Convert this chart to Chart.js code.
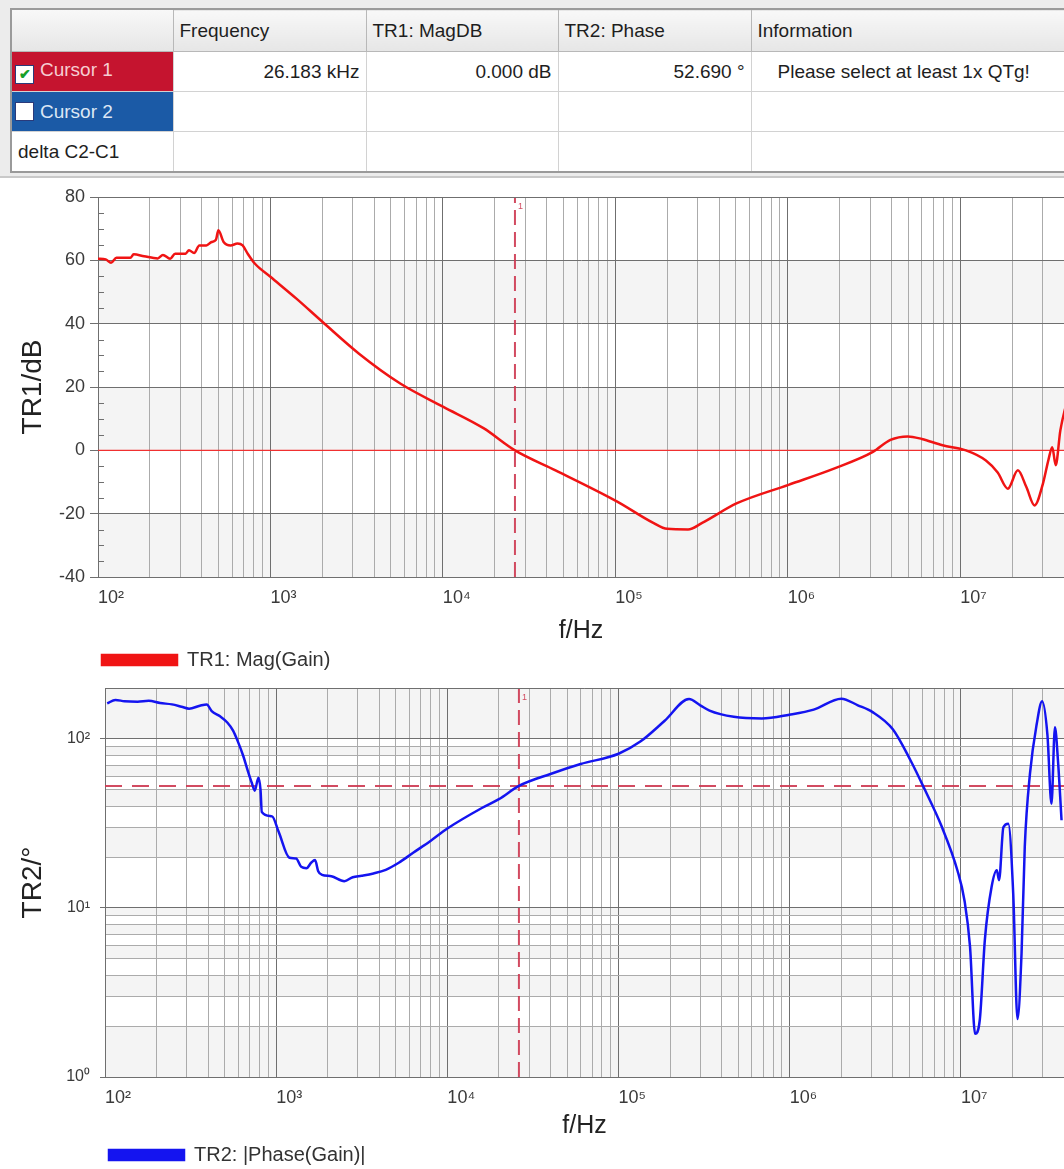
<!DOCTYPE html>
<html>
<head>
<meta charset="utf-8">
<script src="https://cdn.jsdelivr.net/npm/chart.js@4.4.1/dist/chart.umd.min.js"></script>
<style>
  html, body { margin:0; padding:0; background:#fff; overflow:hidden; width:1064px; height:1169px; }
  #panel { position:absolute; left:0; top:0; width:1064px; height:176px; background:#ececec; border-bottom:2px solid #c9c9c9; overflow:hidden; }
  table { position:absolute; left:10px; top:8px; border-collapse:collapse; table-layout:fixed; width:1070px;
          font-family:"Liberation Sans", Arial, sans-serif; font-size:19px; color:#1e1e1e; background:#fff; border:2px solid #9a9a9a; }
  td, th { border:1px solid #d2d2d2; padding:0 6px; white-space:nowrap; overflow:hidden; font-weight:normal; }
  th { height:41px; text-align:left; background:linear-gradient(#f8f8f8,#e6e6e6); border-color:#b8b8b8; }
  td { height:39px; }
  .num { text-align:right; }
  .info { padding-left:26px; }
  .c1 { background:#c5142f; color:#f6cdd2; padding-left:3px; }
  .c2 { background:#1b5aa6; color:#dce7f5; padding-left:3px; }
  .box { display:inline-block; width:17px; height:17px; background:#fff; border:1px solid #2a3a7a; vertical-align:-3px;
         margin-right:6px; text-align:center; line-height:17px; font-size:14px; color:#18a02a; font-weight:bold; }
  canvas { position:absolute; left:0; }
  #mag { top:180px; }
  #phase { top:680px; }
</style>
</head>
<body>
<div id="panel">
  <table>
    <colgroup><col style="width:162px"><col style="width:193px"><col style="width:192px"><col style="width:193px"><col style="width:330px"></colgroup>
    <tr><th></th><th>Frequency</th><th>TR1: MagDB</th><th>TR2: Phase</th><th>Information</th></tr>
    <tr><td class="c1"><span class="box">&#10004;</span>Cursor 1</td><td class="num">26.183 kHz</td><td class="num">0.000 dB</td><td class="num">52.690 °</td><td class="info">Please select at least 1x QTg!</td></tr>
    <tr><td class="c2"><span class="box"></span>Cursor 2</td><td></td><td></td><td></td><td></td></tr>
    <tr><td>delta C2-C1</td><td></td><td></td><td></td><td></td></tr>
  </table>
</div>
<canvas id="mag" width="1064" height="500"></canvas>
<canvas id="phase" width="1064" height="495"></canvas>
<script>
// TR1 magnitude (dB) against frequency (Hz)
const magFreq = [100, 111, 119, 128, 154, 161, 185, 222, 238, 262, 280, 322, 337, 361, 387, 425, 455, 483, 499, 535, 588, 644, 690, 740, 811, 1000,
  1415, 2000, 3250, 5660, 10000, 17200, 26183, 45000, 102000, 166000, 200000, 264000, 319000, 508000, 1010000, 1870000, 3120000,
  3940000, 4970000, 5990000, 7900000, 10800000, 14100000, 16500000, 18900000, 21600000, 24200000, 27000000, 30200000, 32500000,
  34200000, 35800000, 38100000, 41700000];
const magDb = [60.5, 60.3, 59.2, 60.8, 60.8, 61.9, 61.3, 60.6, 61.7, 60.5, 62.1, 62.1, 63.2, 62.3, 64.7, 64.7, 65.8, 66.5, 69.5, 65.8, 64.7, 65.3, 64.7, 62, 59, 54.8,
  47.9, 40.6, 30.6, 21.1, 13.8, 7, 0, -6.3, -16.1, -22.9, -24.8, -25, -22.9, -16.7, -10.9, -5.7, -0.5,
  3.3, 4.4, 3.6, 1.6, 0, -3.2, -7, -12.1, -6.3, -11.6, -17.4, -10.5, -3,
  1, -4.7, 6.3, 15.8];

// TR2 |phase| (deg) against frequency (Hz)
const phaseFreq = [103, 115, 130, 155, 180, 210, 246, 280, 310, 358, 393, 420, 470, 518, 560, 596, 640, 682, 720, 750, 787, 810, 824, 946,
  1035, 1195, 1309, 1400, 1503, 1600, 1687, 1760, 1852, 2100, 2500, 2800, 3155, 3700, 4365, 5200, 6310, 8000, 10000, 15900, 20000,
  26183, 40000, 60000, 100000, 134000, 186000, 258000, 300000, 340000, 471000, 687000, 995000, 1380000, 2000000, 2500000, 3050000,
  4000000, 5080000, 6100000, 7700000, 9550000, 10500000, 11300000, 12100000, 12900000, 13800000, 15100000, 16200000, 16700000,
  17700000, 18900000, 20200000, 21400000, 22600000, 23600000, 25300000, 27700000, 29800000, 32000000, 33800000, 35400000, 37000000, 38700000];
const phaseDeg = [162, 170, 167, 166, 168, 163, 160, 155, 151, 157, 160, 146, 136, 125, 112, 97, 80, 65, 55, 49.4, 59, 50, 37, 34.8,
  28.1, 19.8, 19.6, 17.5, 17.2, 18.5, 19.2, 16.5, 15.7, 15.4, 14.4, 15.2, 15.5, 16, 16.8, 18.5, 21.2, 25, 29.5, 39, 44,
  52.7, 62, 71, 81.7, 96.4, 128, 172, 158, 147, 135, 132, 139, 149, 173, 158, 144,
  114, 74.5, 51, 30.5, 16.6, 11, 5.9, 1.8, 2.2, 6.5, 13.3, 16.7, 14.6,
  30, 31.5, 12.2, 2.2, 5.4, 23, 62, 122, 167, 106, 41.3, 117, 71, 33];

// cursor 1 readout
const cursorFreq = 26183;
const cursorDb = 0;
const cursorPhase = 52.69;

// axes
const xMin = 100, xMax = 40000000;
const xMajor = [100, 1000, 10000, 100000, 1000000, 10000000];
const xLabels = ['10²', '10³', '10⁴', '10⁵', '10⁶', '10⁷'];
const xMinorSteps = [1, 2, 3, 4, 5, 6, 7, 8, 9];
const magMin = -40, magMax = 80, magStep = 5, magLabelStep = 20;
const magMajor = [-40, -20, 0, 20, 40, 60, 80];
const phaseMin = 1, phaseMax = 200;
const phaseTicks = [1, 2, 3, 4, 5, 6, 7, 8, 9, 10, 20, 30, 40, 50, 60, 70, 80, 90, 100, 200];
const phaseMajor = [1, 10, 100];
const phaseLabels = ['10⁰', '10¹', '10²'];

const xTicks = [];
xMajor.forEach(d => xMinorSteps.forEach(m => { if (d * m <= xMax) xTicks.push(d * m); }));

Chart.defaults.font.family = '"Liberation Sans", Arial, sans-serif';
Chart.defaults.color = '#333';
Chart.defaults.animation = false;

const MAJOR = '#6f6f6f', MINOR = '#ababab', CURSOR = 'rgba(205,55,80,0.9)';

// shaded bands between grid rows, plus top frame, inner minor ticks and cursor tag
const decor = {
  id: 'decor',
  beforeDraw(chart, args, opts) {
    const {ctx, chartArea: a} = chart;
    const y = chart.scales.y;
    ctx.save();
    ctx.fillStyle = '#f4f4f4';
    for (let i = 0; i < opts.edges.length - 1; i += 2) {
      const t = y.getPixelForValue(opts.edges[i + 1]), b = y.getPixelForValue(opts.edges[i]);
      ctx.fillRect(a.left, t, a.right - a.left, b - t);
    }
    ctx.restore();
  },
  afterDraw(chart, args, opts) {
    const {ctx, chartArea: a} = chart;
    ctx.save();
    ctx.strokeStyle = MAJOR; ctx.lineWidth = 1;
    ctx.beginPath(); ctx.moveTo(a.left, a.top + 0.5); ctx.lineTo(a.right, a.top + 0.5); ctx.stroke();
    if (opts.minorTicks) {
      chart.scales.y.ticks.forEach(t => {
        if (t.value % magLabelStep === 0) return;
        const p = Math.round(chart.scales.y.getPixelForValue(t.value)) + 0.5;
        ctx.beginPath(); ctx.moveTo(a.left, p); ctx.lineTo(a.left + 6, p); ctx.stroke();
      });
    }
    const cx = chart.scales.x.getPixelForValue(cursorFreq);
    ctx.fillStyle = CURSOR; ctx.font = '9px "Liberation Sans", Arial';
    ctx.fillText('1', cx + 3, a.top + 10);
    ctx.restore();
  }
};

function xAxis(height) {
  return {
    type: 'logarithmic', min: xMin, max: xMax,
    afterBuildTicks: s => { s.ticks = xTicks.map(v => ({value: v})); },
    afterFit: s => { s.height = height; s.paddingRight = 0; s.paddingLeft = 0; },
    ticks: {
      autoSkip: false, maxRotation: 0, align: 'start', padding: 10,
      font: {size: 18}, color: '#3a3a3a',
      callback: v => { const i = xMajor.indexOf(v); return i < 0 ? '' : xLabels[i]; }
    },
    grid: {
      drawTicks: false,
      color: c => (c.tick && xMajor.includes(c.tick.value)) ? MAJOR : MINOR
    },
    border: {color: MAJOR},
    title: {display: true, text: 'f/Hz', font: {size: 25}, color: '#222', padding: {top: 0, bottom: 0}}
  };
}

function legend() {
  return {
    position: 'bottom', align: 'start', fullSize: false,
    labels: {
      boxWidth: 75, boxHeight: 10, padding: 4, font: {size: 20}, color: '#333',
      filter: item => item.datasetIndex === 0
    }
  };
}

new Chart(document.getElementById('mag').getContext('2d'), {
  type: 'line',
  data: {
    datasets: [
      {
        label: 'TR1: Mag(Gain)',
        data: magFreq.map((f, i) => ({x: f, y: magDb[i]})),
        borderColor: '#f01414', backgroundColor: '#f01414', borderWidth: 2.5,
        pointRadius: 0, cubicInterpolationMode: 'monotone'
      },
      {
        label: 'ref',
        data: [{x: xMin, y: cursorDb}, {x: xMax, y: cursorDb}],
        borderColor: '#f03030', borderWidth: 1.2, pointRadius: 0
      },
      {
        label: 'cursor',
        data: [{x: cursorFreq, y: magMin}, {x: cursorFreq, y: magMax}],
        borderColor: CURSOR, borderWidth: 2, borderDash: [15, 7], pointRadius: 0
      }
    ]
  },
  options: {
    responsive: false,
    layout: {padding: {top: 17, left: 0, right: 0, bottom: 0}},
    plugins: {
      legend: legend(),
      tooltip: {enabled: false},
      decor: {edges: magMajor, minorTicks: true}
    },
    scales: {
      x: xAxis(69),
      y: {
        min: magMin, max: magMax,
        afterFit: s => { s.width = 98; s.paddingTop = 0; s.paddingBottom = 0; },
        ticks: {
          stepSize: magStep, autoSkip: false, padding: 5,
          font: {size: 18}, color: '#3a3a3a',
          callback: v => v % magLabelStep === 0 ? v : ''
        },
        grid: {
          tickLength: 8,
          color: c => (c.tick && c.tick.value % magLabelStep === 0) ? MAJOR : 'rgba(0,0,0,0)',
          tickColor: c => (c.tick && c.tick.value % magLabelStep === 0) ? MAJOR : 'rgba(0,0,0,0)'
        },
        border: {color: MAJOR},
        title: {display: true, text: 'TR1/dB', font: {size: 28}, color: '#222', padding: {top: 16, bottom: 0}}
      }
    }
  },
  plugins: [decor]
});

new Chart(document.getElementById('phase').getContext('2d'), {
  type: 'line',
  data: {
    datasets: [
      {
        label: 'TR2: |Phase(Gain)|',
        data: phaseFreq.map((f, i) => ({x: f, y: phaseDeg[i]})),
        borderColor: '#1414f0', backgroundColor: '#1414f0', borderWidth: 2.5,
        pointRadius: 0, cubicInterpolationMode: 'monotone'
      },
      {
        label: 'cursor level',
        data: [{x: xMin, y: cursorPhase}, {x: xMax, y: cursorPhase}],
        borderColor: CURSOR, borderWidth: 2, borderDash: [17, 10], pointRadius: 0
      },
      {
        label: 'cursor',
        data: [{x: cursorFreq, y: phaseMin}, {x: cursorFreq, y: phaseMax}],
        borderColor: CURSOR, borderWidth: 2, borderDash: [15, 7], pointRadius: 0
      }
    ]
  },
  options: {
    responsive: false,
    layout: {padding: {top: 8, left: 0, right: 0, bottom: 0}},
    plugins: {
      legend: legend(),
      tooltip: {enabled: false},
      decor: {edges: phaseTicks, minorTicks: false}
    },
    scales: {
      x: xAxis(64),
      y: {
        type: 'logarithmic', min: phaseMin, max: phaseMax,
        afterBuildTicks: s => { s.ticks = phaseTicks.map(v => ({value: v})); },
        afterFit: s => { s.width = 105; s.paddingTop = 0; s.paddingBottom = 0; },
        ticks: {
          autoSkip: false, padding: 10, font: {size: 16}, color: '#3a3a3a',
          callback: v => { const i = phaseMajor.indexOf(v); return i < 0 ? '' : phaseLabels[i]; }
        },
        grid: {
          tickLength: 5,
          color: c => (c.tick && phaseMajor.includes(c.tick.value)) ? MAJOR : MINOR,
          tickColor: c => (c.tick && phaseMajor.includes(c.tick.value)) ? MAJOR : 'rgba(0,0,0,0)'
        },
        border: {color: MAJOR},
        title: {display: true, text: 'TR2/°', font: {size: 28}, color: '#222', padding: {top: 16, bottom: 0}}
      }
    }
  },
  plugins: [decor]
});
</script>
</body>
</html>
